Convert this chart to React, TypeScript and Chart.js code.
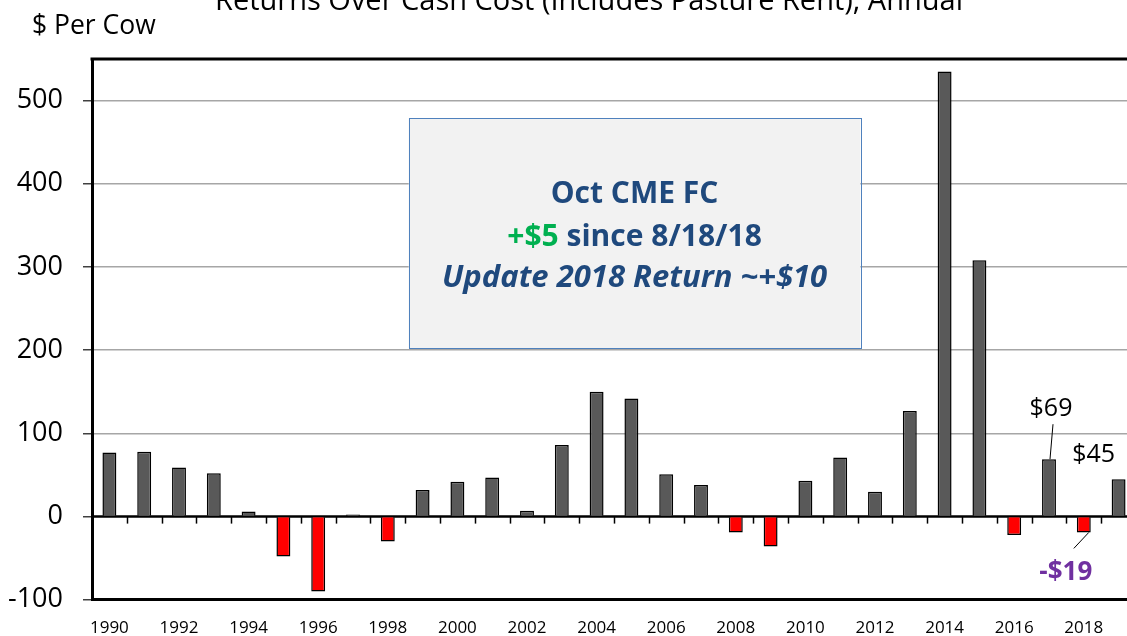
import React, { useEffect, useRef } from "react";
import { Chart, registerables } from "chart.js";

Chart.register(...registerables);

const years = [
  "1990", "1991", "1992", "1993", "1994", "1995", "1996", "1997", "1998", "1999",
  "2000", "2001", "2002", "2003", "2004", "2005", "2006", "2007", "2008", "2009",
  "2010", "2011", "2012", "2013", "2014", "2015", "2016", "2017", "2018", "2019",
];
const returns = [
  77, 78, 59, 52, 6, -48, -90, 2.5, -30, 32,
  42, 47, 7, 86, 150, 142, 51, 38, -19, -36,
  43, 71, 30, 127, 535, 308, -22, 69, -19, 45,
];
const yTicks = [-100, 0, 100, 200, 300, 400, 500];
const titleText = "Returns Over Cash Cost (Includes Pasture Rent), Annual";
const yAxisLabel = "$ Per Cow";
const boxLine1 = "Oct CME FC";
const boxLine2Green = "+$5";
const boxLine2Rest = " since 8/18/18";
const boxLine3 = "Update 2018 Return ~+$10";
const callout2017 = "$69";
const callout2019 = "$45";
const callout2018 = "-$19";

const FONT = "'Open Sans', 'DejaVu Sans', sans-serif";
const DARK_BLUE = "#1f497d";

const decoPlugin = {
  id: "deco",
  beforeDatasetsDraw(chart: any) {
    const { ctx, chartArea: ca, scales } = chart;
    const x = scales.x;
    const y = scales.y;
    const step = x.getPixelForValue(1) - x.getPixelForValue(0);
    const y0 = y.getPixelForValue(0);
    ctx.save();
    // zero line
    ctx.strokeStyle = "#000";
    ctx.lineWidth = 2.5;
    ctx.beginPath();
    ctx.moveTo(ca.left, y0);
    ctx.lineTo(ca.right, y0);
    ctx.stroke();
    // tick marks between categories on zero line
    ctx.lineWidth = 1.5;
    for (let i = 0; i < years.length; i++) {
      const px = Math.round(x.getPixelForValue(i) + step / 2) + 0.5;
      ctx.beginPath();
      ctx.moveTo(px, y0);
      ctx.lineTo(px, y0 + 7);
      ctx.stroke();
    }
    ctx.restore();
  },
  afterDatasetsDraw(chart: any) {
    const { ctx, chartArea: ca, scales } = chart;
    const x = scales.x;
    const y = scales.y;
    ctx.save();
    // top border
    ctx.strokeStyle = "#000";
    ctx.lineWidth = 3;
    ctx.beginPath();
    ctx.moveTo(ca.left - 1.5, ca.top);
    ctx.lineTo(ca.right, ca.top);
    ctx.stroke();

    // annotation box
    const bx1 = x.getPixelForValue(8.6);
    const bx2 = x.getPixelForValue(21.58);
    const by1 = y.getPixelForValue(479);
    const by2 = y.getPixelForValue(202);
    ctx.fillStyle = "#f2f2f2";
    ctx.fillRect(bx1, by1, bx2 - bx1, by2 - by1);
    ctx.strokeStyle = "#4f81bd";
    ctx.lineWidth = 1;
    ctx.strokeRect(Math.round(bx1) + 0.5, Math.round(by1) + 0.5, Math.round(bx2 - bx1), Math.round(by2 - by1));
    const cx = (bx1 + bx2) / 2;
    ctx.textBaseline = "alphabetic";
    ctx.textAlign = "center";
    ctx.fillStyle = DARK_BLUE;
    ctx.font = `bold 30px ${FONT}`;
    ctx.fillText(boxLine1, cx, by1 + 85);
    const wG = ctx.measureText(boxLine2Green).width;
    const wR = ctx.measureText(boxLine2Rest).width;
    const startX = cx - (wG + wR) / 2;
    ctx.textAlign = "left";
    ctx.fillStyle = "#00b050";
    ctx.fillText(boxLine2Green, startX, by1 + 128);
    ctx.fillStyle = DARK_BLUE;
    ctx.fillText(boxLine2Rest, startX + wG, by1 + 128);
    ctx.textAlign = "center";
    ctx.font = `italic bold 31px ${FONT}`;
    ctx.fillText(boxLine3, cx, by1 + 169);

    // callouts
    ctx.font = `25px ${FONT}`;
    ctx.fillStyle = "#000";
    ctx.textAlign = "center";
    const x17 = x.getPixelForValue(27);
    const top17 = y.getPixelForValue(returns[27]);
    ctx.fillText(callout2017, x17 + 2, top17 - 43);
    ctx.strokeStyle = "#000";
    ctx.lineWidth = 1;
    ctx.beginPath();
    ctx.moveTo(x17 + 4, top17 - 35);
    ctx.lineTo(x17 + 1, top17);
    ctx.stroke();
    const x19 = x.getPixelForValue(29);
    const top19 = y.getPixelForValue(returns[29]);
    ctx.fillText(callout2019, x19 - 25, top19 - 17);

    const x18 = x.getPixelForValue(28);
    const bot18 = y.getPixelForValue(returns[28]);
    ctx.beginPath();
    ctx.moveTo(x18 + 5, bot18);
    ctx.lineTo(x18 - 10, bot18 + 16);
    ctx.stroke();
    ctx.font = `bold 26px ${FONT}`;
    ctx.fillStyle = "#7030a0";
    ctx.fillText(callout2018, x18 - 18, bot18 + 48);
    ctx.restore();
  },
  afterDraw(chart: any) {
    const { ctx } = chart;
    ctx.save();
    ctx.fillStyle = "#000";
    ctx.textAlign = "center";
    ctx.textBaseline = "alphabetic";
    ctx.font = `29px ${FONT}`;
    ctx.fillText(titleText, 589, 10);
    ctx.textAlign = "left";
    ctx.font = `26.5px ${FONT}`;
    ctx.fillText(yAxisLabel, 32, 34);
    ctx.restore();
  },
};

export default function App() {
  const canvasRef = useRef<HTMLCanvasElement | null>(null);

  useEffect(() => {
    const canvas = canvasRef.current;
    if (!canvas) return;
    const chart = new Chart(canvas, {
      type: "bar",
      data: {
        labels: years,
        datasets: [
          {
            data: returns,
            backgroundColor: returns.map((v) => (v < 0 ? "#ff0000" : "#595959")),
            borderColor: "#000",
            borderWidth: 1.5,
            barPercentage: 0.4,
            categoryPercentage: 1.0,
          },
        ],
      },
      options: {
        responsive: false,
        animation: false,
        events: [],
        layout: { padding: { left: 0, right: 9, top: 59, bottom: 0 } },
        plugins: {
          legend: { display: false },
          title: { display: false },
          tooltip: { enabled: false },
        },
        scales: {
          x: {
            grid: { display: true, drawOnChartArea: false, drawTicks: false },
            border: { display: true, color: "#000", width: 3 },
            ticks: {
              autoSkip: false,
              maxRotation: 0,
              minRotation: 0,
              padding: 18,
              color: "#000",
              font: { family: FONT, size: 17 },
              callback: (_v: any, i: number) => (i % 2 === 0 ? years[i] : ""),
            },
            afterFit: (scale: any) => {
              scale.height = 34;
            },
          },
          y: {
            min: -100,
            max: 550,
            afterBuildTicks: (scale: any) => {
              scale.ticks = yTicks.map((v) => ({ value: v }));
            },
            grid: {
              color: (c: any) =>
                c.tick && (c.tick.value === 0 || c.tick.value === -100) ? "rgba(0,0,0,0)" : "#a6a6a6",
              tickColor: "#404040",
              tickLength: 9,
              lineWidth: 1.5,
            },
            border: { display: true, color: "#000", width: 3 },
            ticks: {
              padding: 20,
              color: "#000",
              font: { family: FONT, size: 27 },
            },
            afterFit: (scale: any) => {
              scale.width = 92;
            },
          },
        },
      },
      plugins: [decoPlugin],
    });
    return () => chart.destroy();
  }, []);

  return (
    <div
      style={{
        position: "fixed",
        left: 0,
        top: 0,
        width: 1127,
        height: 636,
        overflow: "hidden",
        background: "#fff",
      }}
    >
      <canvas ref={canvasRef} width={1145} height={636} style={{ width: 1145, height: 636, display: "block" }} />
    </div>
  );
}
